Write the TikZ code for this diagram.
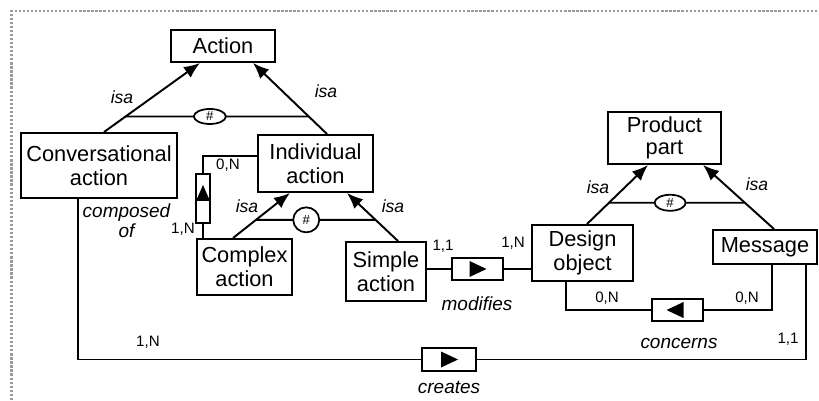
\documentclass[tikz,border=0pt]{standalone}
\usepackage{fontspec}
\setmainfont{Liberation Sans}
\usetikzlibrary{arrows.meta,calc,shapes.geometric}
\definecolor{framegray}{HTML}{9A9A9A}
\tikzset{
  >={Latex[length=3.2mm,width=2.6mm]},
  entity/.style={
    draw=black,
    line width=1.1pt,
    fill=white,
    align=center,
    inner sep=1pt,
    font=\fontsize{12.4}{13.6}\selectfont,
  },
  relbox/.style={draw=black, line width=1.1pt, fill=white, minimum width=1.02cm, minimum height=0.45cm, inner sep=0pt},
  hashnode/.style={ellipse, draw=black, line width=1pt, fill=white, inner sep=0pt, font=\fontsize{7.5}{8}\selectfont},
  link/.style={line width=1.1pt},
  isalabel/.style={font=\fontsize{10}{12}\selectfont\itshape},
  rellabel/.style={font=\fontsize{10.8}{11.5}\selectfont\itshape, align=center},
  card/.style={font=\fontsize{8.6}{10}\selectfont},
}

\begin{document}
\begin{tikzpicture}[line join=miter]
  \useasboundingbox (0,0) rectangle (16.38,8);
  \draw[framegray, densely dotted, line width=1.3pt] (0.23,0) -- (0.23,7.78) -- (16.38,7.78);

  \node[entity, minimum width=2.08cm, minimum height=0.64cm] (action) at (4.46, 7.08) {Action};
  \node[entity, minimum width=3.12cm, minimum height=1.30cm] (conv) at (1.98, 4.69) {Conversational\\action};
  \node[entity, minimum width=2.30cm, minimum height=1.14cm] (indiv) at (6.31, 4.73) {Individual\\action};
  \node[entity, minimum width=1.90cm, minimum height=1.12cm] (complex) at (4.89, 2.66) {Complex\\action};
  \node[entity, minimum width=1.60cm, minimum height=1.18cm] (simple) at (7.72, 2.57) {Simple\\action};
  \node[entity, minimum width=2.02cm, minimum height=1.12cm] (design) at (11.65, 2.94) {Design\\object};
  \node[entity, minimum width=2.26cm, minimum height=1.04cm, font=\fontsize{12.4}{12.6}\selectfont] (product) at (13.29, 5.24) {Product\\part};
  \node[entity, minimum width=2.08cm, minimum height=0.68cm] (message) at (15.30, 3.06) {Message};

  \draw[link, ->] ($(conv.north)+(0.10,0)$) -- ($(action.south)+(-0.46,0)$) coordinate[pos=0.225] (isa1a);
  \draw[link, ->] ($(indiv.north)+(0.23,0)$) -- ($(action.south)+(0.60,0)$) coordinate[pos=0.247] (isa1b);
  \draw[link] (isa1a) -- (isa1b);
  \node[hashnode, minimum width=0.64cm, minimum height=0.30cm] (hash1) at ($(isa1a)!0.46!(isa1b)$) {\#};

  \draw[link, ->] ($(complex.north)+(-0.23,0)$) -- ($(indiv.south)+(-0.51,0)$) coordinate[pos=0.404] (isa2a);
  \draw[link, ->] ($(simple.north)+(0.24,0)$) -- ($(indiv.south)+(0.63,0)$) coordinate[pos=0.44] (isa2b);
  \draw[link] (isa2a) -- (isa2b);
  \node[hashnode, minimum width=0.52cm, minimum height=0.50cm] (hash2) at ($(isa2a)!0.42!(isa2b)$) {\#};

  \draw[link, ->] ($(design.north)+(0.09,0)$) -- ($(product.south)+(-0.33,0)$) coordinate[pos=0.36] (isa3a);
  \draw[link, ->] ($(message.north)+(0.18,0)$) -- ($(product.south)+(0.77,0)$) coordinate[pos=0.41] (isa3b);
  \draw[link] (isa3a) -- (isa3b);
  \node[hashnode, minimum width=0.62cm, minimum height=0.32cm] (hash3) at ($(isa3a)!0.45!(isa3b)$) {\#};

  \node[isalabel] (isa-l1) at (2.44, 6.06) {isa};
  \node[isalabel] (isa-r1) at (6.52, 6.18) {isa};
  \node[isalabel] (isa-l2) at (4.94, 3.88) {isa};
  \node[isalabel] (isa-r2) at (7.86, 3.88) {isa};
  \node[isalabel] (isa-l3) at (11.96, 4.26) {isa};
  \node[isalabel] (isa-r3) at (15.14, 4.32) {isa};

  \node[relbox, minimum width=0.28cm, minimum height=0.98cm] (cmpbox) at (4.06, 4.03) {};
  \draw[link] ($(indiv.west)+(0,0.15)$) -| (cmpbox.north);
  \draw[link] (cmpbox.south) -- (cmpbox.south |- complex.north);
  \fill[shift={(cmpbox.center)}] (-0.14,-0.05) -- (0,0.27) -- (0.14,-0.05) -- cycle;
  \node[card] (card-cmp0) at (4.56, 4.70) {0,N};
  \node[card] (card-cmp1) at (3.66, 3.42) {1,N};
  \node[rellabel] (lbl-composed) at (2.53, 3.58) {composed\\of};

  \node[relbox] (modbox) at (9.55, 2.62) {};
  \draw[link] (simple.east |- modbox) -- (modbox.west);
  \draw[link] (modbox.east) -- (modbox -| design.west);
  \fill[shift={(modbox.center)}] (-0.16,0.16) -- (0.18,0) -- (-0.16,-0.16) -- cycle;
  \node[card] (card-mod1) at (8.86, 3.08) {1,1};
  \node[card] (card-mod2) at (10.26, 3.14) {1,N};
  \node[rellabel] (lbl-modifies) at (9.54, 1.93) {modifies};

  \node[relbox] (conbox) at (13.55, 1.80) {};
  \draw[link] ($(design.south)+(-0.33,0)$) |- (conbox.west);
  \draw[link] (conbox.east) -| ($(message.south)+(0.14,0)$);
  \fill[shift={(conbox.center)}] (0.12,0.16) -- (-0.22,0) -- (0.12,-0.16) -- cycle;
  \node[card] (card-con1) at (12.14, 2.04) {0,N};
  \node[card] (card-con2) at (14.94, 2.04) {0,N};
  \node[rellabel] (lbl-concerns) at (13.58, 1.14) {concerns};

  \node[relbox, minimum width=1.08cm, minimum height=0.46cm] (crbox) at (8.98, 0.81) {};
  \draw[link] ($(conv.south)+(-0.42,0)$) |- (crbox.west);
  \draw[link] (crbox.east) -| ($(message.south)+(0.82,0)$);
  \fill[shift={(crbox.center)}] (-0.16,0.16) -- (0.18,0) -- (-0.16,-0.16) -- cycle;
  \node[card] (card-cr1) at (2.96, 1.16) {1,N};
  \node[card] (card-cr2) at (15.76, 1.22) {1,1};
  \node[rellabel] (lbl-creates) at (8.98, 0.25) {creates};
\end{tikzpicture}
\end{document}
